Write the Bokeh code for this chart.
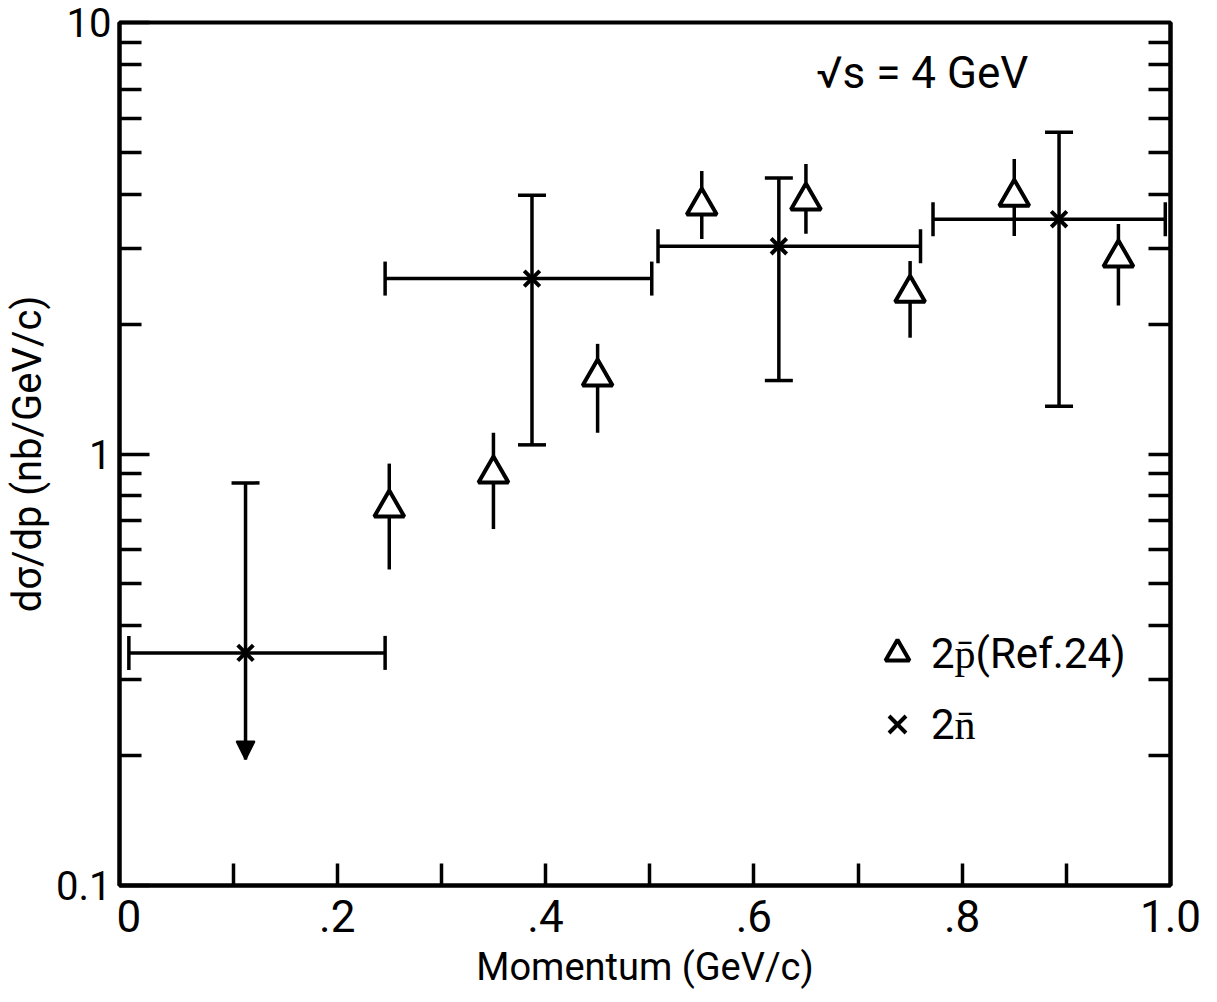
import numpy as np
from bokeh.plotting import figure
from bokeh.models import (ColumnDataSource, Whisker, TeeHead, NormalHead, FixedTicker,
                          LogAxis, Range1d, Label, Legend, LegendItem)
from bokeh.embed import file_html
from bokeh.resources import INLINE

# ---- data: 2 p-bar (Ref. 24) ----
p_x = [0.25, 0.35, 0.45, 0.55, 0.65, 0.75, 0.85, 0.95]
p_y = [0.75, 0.90, 1.51, 3.76, 3.86, 2.36, 3.94, 2.85]
p_hi = [0.95, 1.12, 1.80, 4.53, 4.70, 2.80, 4.83, 3.41]
p_lo = [0.54, 0.67, 1.12, 3.15, 3.24, 1.86, 3.20, 2.21]

# ---- data: 2 n-bar ----
n_x = [0.112, 0.387, 0.624, 0.893]
n_y = [0.346, 2.55, 3.03, 3.50]
n_hi = [0.857, 3.98, 4.36, 5.57]
n_lo = [0.196, 1.05, 1.48, 1.29]
n_xlo = [0.0, 0.246, 0.508, 0.772]
n_xhi = [0.246, 0.502, 0.760, 0.995]
n_is_limit = [True, False, False, False]

# ---- ticks ----
x_ticks = [0, 0.2, 0.4, 0.6, 0.8, 1.0]
x_tick_labels = ["0", ".2", ".4", ".6", ".8", "1.0"]
x_minor = [0.1, 0.2, 0.3, 0.4, 0.5, 0.6, 0.7, 0.8, 0.9]
y_ticks = [0.1, 1, 10]
y_tick_labels = ["0.1", "1", "10"]
y_minor = [0.2, 0.3, 0.4, 0.5, 0.6, 0.7, 0.8, 0.9, 2, 3, 4, 5, 6, 7, 8, 9]

FONT = "Roboto"
LW = 3.5

p = figure(width=1217, height=1002, y_axis_type="log",
           x_range=Range1d(-0.009, 1.0), y_range=Range1d(0.1, 10),
           output_backend="svg", toolbar_location=None,
           min_border_left=115, min_border_right=47,
           min_border_top=22, min_border_bottom=117)
p.grid.visible = False
p.outline_line_color = "black"
p.outline_line_width = 4
p.background_fill_color = "white"
p.border_fill_color = "white"

# x axis
xa = p.xaxis[0]
xa.ticker = FixedTicker(ticks=x_ticks, minor_ticks=x_minor)
xa.major_label_overrides = {t: l for t, l in zip(x_ticks, x_tick_labels)}
xa.major_tick_in = 0
xa.major_tick_out = 0
xa.minor_tick_in = 22
xa.minor_tick_out = 0
xa.minor_tick_line_width = LW
xa.axis_line_width = 4
xa.major_label_standoff = 14
xa.major_label_text_font = FONT
xa.major_label_text_font_size = "44px"
xa.major_label_text_color = "black"
xa.axis_label = "Momentum (GeV/c)"
xa.axis_label_text_font = FONT
xa.axis_label_text_font_size = "38px"
xa.axis_label_text_font_style = "normal"
xa.axis_label_text_color = "black"
xa.axis_label_standoff = 10

# y axis
ya = p.yaxis[0]
ya.ticker = FixedTicker(ticks=y_ticks, minor_ticks=y_minor)
ya.major_label_overrides = {t: l for t, l in zip(y_ticks, y_tick_labels)}
ya.major_tick_in = 30
ya.major_tick_out = 0
ya.minor_tick_in = 22
ya.minor_tick_out = 0
ya.major_tick_line_width = LW
ya.minor_tick_line_width = LW
ya.axis_line_width = 4
ya.major_label_standoff = 8
ya.major_label_text_font = FONT
ya.major_label_text_font_size = "40px"
ya.major_label_text_color = "black"
ya.axis_label = "dσ/dp (nb/GeV/c)"
ya.axis_label_text_font = FONT
ya.axis_label_text_font_size = "40px"
ya.axis_label_text_font_style = "normal"
ya.axis_label_text_color = "black"
ya.axis_label_standoff = 2

# right axis: ticks only
ra = LogAxis(ticker=FixedTicker(ticks=[], minor_ticks=y_minor + [1]))
ra.major_tick_in = 0
ra.major_tick_out = 0
ra.minor_tick_in = 22
ra.minor_tick_out = 0
ra.minor_tick_line_width = LW
ra.axis_line_width = 4
p.add_layout(ra, "right")

# ---- 2 p-bar: vertical bars without caps, open triangles on top ----
psrc = ColumnDataSource(dict(x=p_x, y=p_y, hi=p_hi, lo=p_lo))
p.segment(x0="x", y0="lo", x1="x", y1="hi", source=psrc, line_color="black", line_width=LW)
tri = p.scatter("x", "y", source=psrc, marker="triangle", size=30,
                fill_color="white", line_color="black", line_width=4)

# ---- 2 n-bar: bins with caps and vertical bars ----
nsrc = ColumnDataSource(dict(x=n_x, y=n_y, hi=n_hi, lo=n_lo, xlo=n_xlo, xhi=n_xhi))
p.add_layout(Whisker(source=nsrc, base="y", lower="xlo", upper="xhi", dimension="width",
                     line_width=LW, line_color="black",
                     lower_head=TeeHead(size=34, line_width=LW),
                     upper_head=TeeHead(size=34, line_width=LW)))

meas = [i for i, lim in enumerate(n_is_limit) if not lim]
lims = [i for i, lim in enumerate(n_is_limit) if lim]
msrc = ColumnDataSource(dict(x=[n_x[i] for i in meas], hi=[n_hi[i] for i in meas],
                             lo=[n_lo[i] for i in meas]))
p.add_layout(Whisker(source=msrc, base="x", lower="lo", upper="hi", dimension="height",
                     line_width=LW, line_color="black",
                     lower_head=TeeHead(size=28, line_width=LW),
                     upper_head=TeeHead(size=28, line_width=LW)))
lsrc = ColumnDataSource(dict(x=[n_x[i] for i in lims], hi=[n_hi[i] for i in lims],
                             lo=[n_lo[i] for i in lims]))
p.add_layout(Whisker(source=lsrc, base="x", lower="lo", upper="hi", dimension="height",
                     line_width=LW, line_color="black",
                     lower_head=NormalHead(size=18, line_width=2, fill_color="black",
                                           line_color="black"),
                     upper_head=TeeHead(size=28, line_width=LW)))
crs = p.scatter("x", "y", source=nsrc, marker="x", size=22, line_color="black", line_width=4)

# ---- annotation ----
p.add_layout(Label(x=0.66, y=7.64, text="√s  = 4 GeV", text_font=FONT,
                   text_font_size="44px", text_baseline="middle", text_color="black"))

# ---- legend ----
leg = Legend(items=[LegendItem(label="2p̄(Ref.24)", renderers=[tri]),
                    LegendItem(label="2n̄", renderers=[crs])],
             location=(748, 131), glyph_width=60, glyph_height=60, spacing=11,
             padding=0, margin=0, label_standoff=4, border_line_color=None,
             background_fill_alpha=0, label_text_font=FONT,
             label_text_font_size="42px", label_text_color="black")
p.add_layout(leg, "center")

open("out.html", "w").write(file_html(p, INLINE))
